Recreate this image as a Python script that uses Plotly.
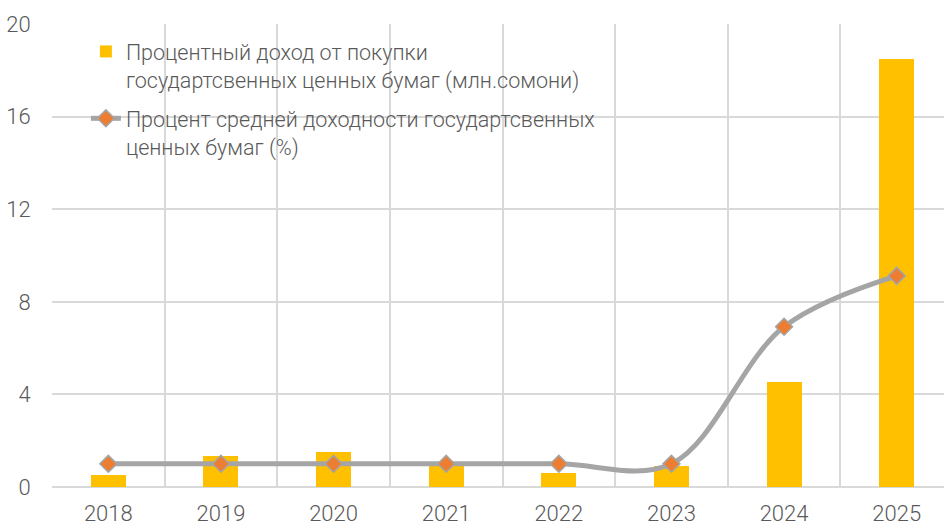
import plotly.graph_objects as go

years = ["2018", "2019", "2020", "2021", "2022", "2023", "2024", "2025"]
income = [0.5, 1.35, 1.5, 0.9, 0.62, 0.92, 4.55, 18.5]
avg_yield = [1.0, 1.0, 1.0, 1.0, 1.0, 1.0, 6.92, 9.12]
y_ticks = [0, 4, 8, 12, 16, 20]

name_bar = "Процентный доход от покупки<br>государтсвенных ценных бумаг (млн.сомони)"
name_line = "Процент средней доходности государтсвенных<br>ценных бумаг (%)"

xs = list(range(len(years)))
TXT = "#595959"
GRID = "#d9d9d9"

fig = go.Figure()
fig.add_trace(go.Bar(
    x=xs, y=income, name=name_bar, width=0.31,
    marker=dict(color="#ffc000", line=dict(width=0)),
    legendgroup="a",
))
fig.add_trace(go.Scatter(
    x=xs, y=avg_yield, name=name_line, mode="lines+markers",
    line=dict(color="#a5a5a5", width=5, shape="spline", smoothing=1),
    marker=dict(symbol="diamond", size=13, color="#ed7d31",
                line=dict(color="#a5a5a5", width=1.5)),
    legendgroup="b",
))

fig.update_layout(
    width=944, height=526,
    margin=dict(l=52, r=0, t=24, b=39),
    plot_bgcolor="white", paper_bgcolor="white",
    font=dict(family="Roboto", size=21.5, color=TXT, weight=300),
    showlegend=True,
    legend=dict(
        x=0.038, y=0.985, xanchor="left", yanchor="top",
        bgcolor="rgba(255,255,255,0)", borderwidth=0,
        font=dict(family="Roboto", size=21.5, color=TXT, weight=300),
        valign="top", traceorder="grouped", tracegroupgap=8,
    ),
    bargap=0,
)
fig.update_xaxes(
    range=[-0.5, 7.42], tickmode="array", tickvals=xs, ticktext=years,
    showgrid=False, zeroline=False, showline=False, automargin=False,
    ticks="outside", ticklen=7, tickcolor="rgba(0,0,0,0)",
    tickfont=dict(size=22, color=TXT, family="Roboto", weight=300),
    minor=dict(tickmode="linear", tick0=-0.5, dtick=1, showgrid=True,
               gridcolor=GRID, gridwidth=1.5, ticks=""),
    fixedrange=True,
)
fig.update_yaxes(
    range=[0, 20], tickmode="array", tickvals=y_ticks, automargin=False,
    showgrid=True, gridcolor=GRID, gridwidth=1.5,
    zeroline=True, zerolinecolor=GRID, zerolinewidth=2,
    ticks="outside", ticklen=16, tickcolor="rgba(0,0,0,0)",
    tickfont=dict(size=22, color=TXT, family="Roboto", weight=300),
    fixedrange=True,
)

fig.write_html("out.html", config={"displayModeBar": False},
               post_script="document.body.style.margin='0';")
